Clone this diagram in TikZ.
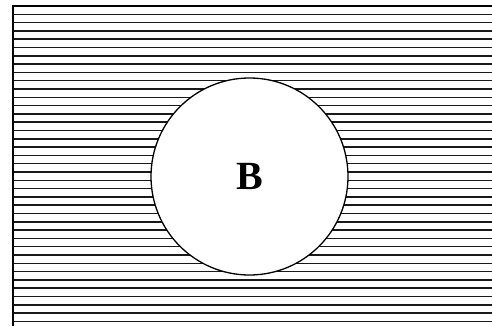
\documentclass[tikz,border=0pt]{standalone}
\usepackage{fontspec}
\setmainfont{Liberation Serif}
\begin{document}
\begin{tikzpicture}[x=1pt,y=-1pt,
  hatch/.style={line width=1.5pt,black!90},
  frame/.style={line width=2pt,black},
  setB/.style={circle,draw=black,line width=1.3pt,fill=white,minimum size=197pt,inner sep=0pt}]
\useasboundingbox (0,0) rectangle (492,326);
\foreach \k in {1,...,38} {
  \draw[hatch] (12.5,{6+\k*8.3}) -- (492,{6+\k*8.3});
}
\coordinate (tl) at (12.5,6);
\coordinate (tr) at (492,6);
\coordinate (bl) at (12.5,326);
\draw[frame] (tr) -- (tl) -- (bl);
\node[setB] (B) at (249.5,176.5) {};
\node[font=\bfseries\fontsize{40}{40}\selectfont] (Blabel) at (B.center) {B};
\end{tikzpicture}
\end{document}
